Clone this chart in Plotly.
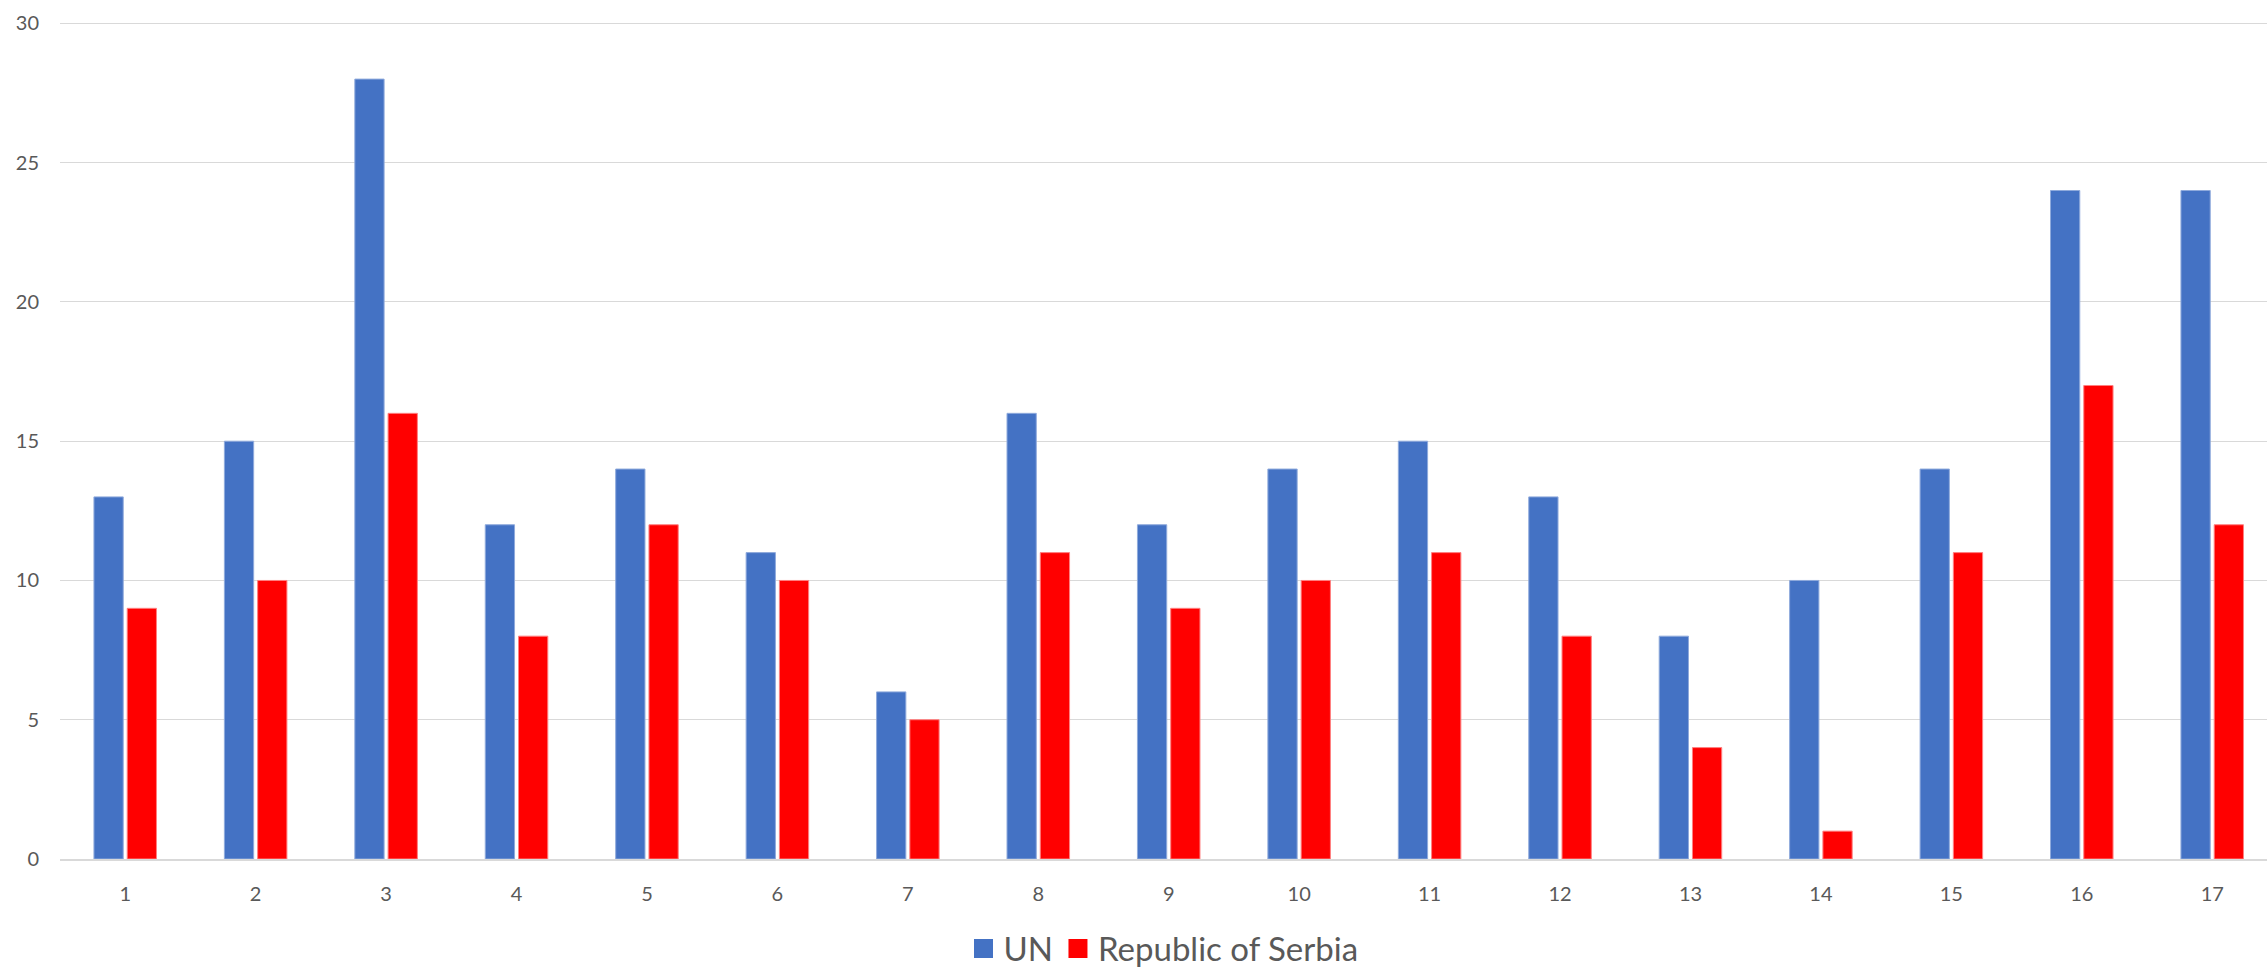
import plotly.graph_objects as go

categories = list(range(1, 18))
un_values = [13, 15, 28, 12, 14, 11, 6, 16, 12, 14, 15, 13, 8, 10, 14, 24, 24]
serbia_values = [9, 10, 16, 8, 12, 10, 5, 11, 9, 10, 11, 8, 4, 1, 11, 17, 12]
y_ticks = [0, 5, 10, 15, 20, 25, 30]
series_names = ["UN", "Republic of Serbia"]
series_colors = ["#4472C4", "#FF0000"]
edge_colors = ["#8faadc", "#ff8080"]

fig = go.Figure()
for name, vals, col, edge in zip(series_names, [un_values, serbia_values], series_colors, edge_colors):
    fig.add_trace(go.Bar(x=categories, y=vals, name=name, showlegend=False,
                         marker=dict(color=col, line=dict(width=1, color=edge))))
for name, col in zip(series_names, series_colors):
    fig.add_trace(go.Scatter(x=[None], y=[None], mode="markers", name=name,
                             marker=dict(symbol="square", size=20, color=col,
                                         line=dict(width=3, color=col))))

fig.update_layout(
    width=2267, height=967,
    margin=dict(l=60, r=0, t=22, b=108, autoexpand=False),
    paper_bgcolor="white", plot_bgcolor="white",
    barmode="group", bargap=0.49, bargroupgap=0.12,
    font=dict(family="Lato, 'Open Sans', sans-serif", color="#595959", size=20),
    showlegend=True,
    legend=dict(orientation="h", x=0.5, xanchor="center", y=-0.107, yanchor="middle",
                font=dict(size=33, color="#595959"), traceorder="normal",
                itemsizing="trace"),
    xaxis=dict(range=[0.5, 17.42], tickmode="array", tickvals=categories,
               ticktext=[str(c) for c in categories], showgrid=False,
               showline=True, linecolor="#d9d9d9", linewidth=2, automargin=False,
               ticks="", ticklabelstandoff=16, zeroline=False),
    yaxis=dict(range=[0, 30.05], tickmode="array", tickvals=y_ticks, automargin=False,
               showgrid=True, gridcolor="#d9d9d9", gridwidth=1.3,
               zeroline=False, showline=False, ticks="", ticklabelstandoff=20),
)

fig.write_html("out.html", config={"displayModeBar": False},
               post_script="document.body.style.margin='0';document.body.style.overflow='hidden';")
